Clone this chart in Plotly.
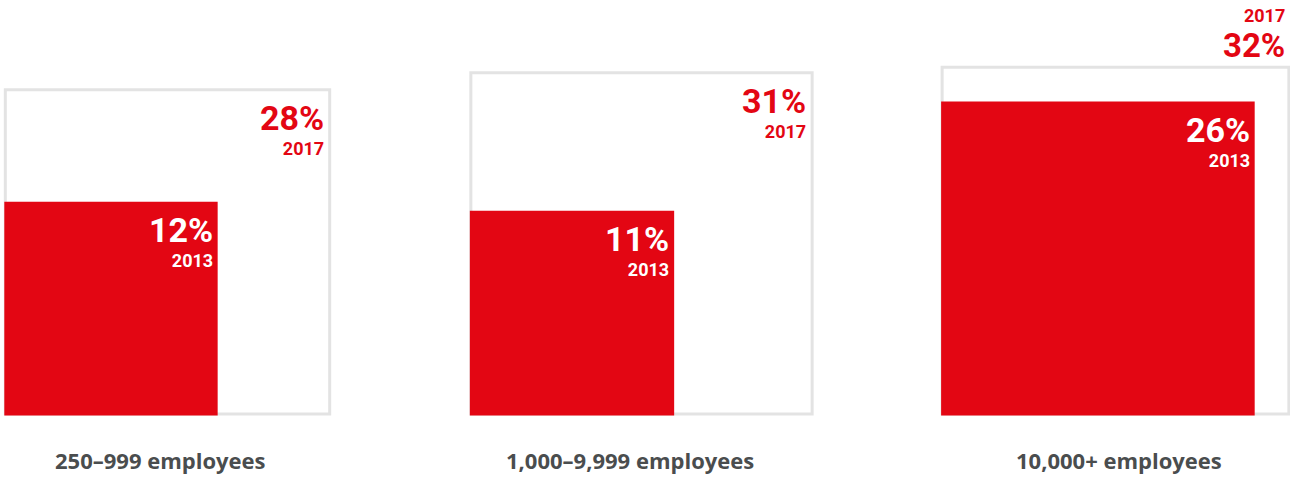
import math
import plotly.graph_objects as go

# Share of companies, by company size, in 2013 and 2017 (percent)
categories = ["250–999 employees", "1,000–9,999 employees", "10,000+ employees"]
share_2013 = [12, 11, 26]
share_2017 = [28, 31, 32]
year_labels = ["2013", "2017"]

W, H = 1290, 482
RED = "#e30613"
OUTLINE = "#e3e3e3"
TEXT = "#4a4d4e"
VALUE_FONT = "Roboto, sans-serif"
LABEL_FONT = "Open Sans, sans-serif"

# square area is proportional to the value: side = scale * sqrt(value)
scale = 61.3          # pixels of side per sqrt(percentage point)
first_center = 167.5  # x centre of the first group
spacing = 474         # distance between group centres
baseline = 68         # y of the common bottom edge (axis units = pixels)
label_nudge = [-7, -12, 3]  # horizontal nudge of each category label


def value_label(value, year, size_big=34, size_small=18, year_first=False):
    big = f"<span style='font-size:{size_big}px'><b>{value}%</b></span>"
    small = f"<span style='font-size:{size_small}px'><b>{year}</b></span>"
    return f"{small}<br>{big}" if year_first else f"{big}<br>{small}"


fig = go.Figure()
shapes, annotations = [], []

for i, (cat, v13, v17) in enumerate(zip(categories, share_2013, share_2017)):
    c = first_center + i * spacing
    big = scale * math.sqrt(v17)
    small = scale * math.sqrt(v13)
    left = c - big / 2

    # 2017: outlined square
    shapes.append(dict(type="rect", xref="x", yref="y",
                       x0=left, x1=left + big, y0=baseline, y1=baseline + big,
                       line=dict(color=OUTLINE, width=3), fillcolor="white", layer="below"))
    # 2013: filled square sharing the bottom-left corner
    shapes.append(dict(type="rect", xref="x", yref="y",
                       x0=left - 1, x1=left + small, y0=baseline - 1.5, y1=baseline + small,
                       line=dict(width=0), fillcolor=RED, layer="below"))

    # 2013 value, inside the red square
    annotations.append(dict(x=left + small, y=baseline + small, xref="x", yref="y",
                            text=value_label(v13, year_labels[0]), showarrow=False,
                            xanchor="right", yanchor="top", align="right",
                            xshift=-3, yshift=-6.5,
                            font=dict(family=VALUE_FONT, size=19.5, color="white")))

    # 2017 value: inside the outline if there is room above the red square, else above it
    if big - small > 70:
        annotations.append(dict(x=left + big, y=baseline + big, xref="x", yref="y",
                                text=value_label(v17, year_labels[1]), showarrow=False,
                                xanchor="right", yanchor="top", align="right",
                                xshift=-4, yshift=-6.5,
                                font=dict(family=VALUE_FONT, size=19.5, color=RED)))
    else:
        annotations.append(dict(x=left + big, y=baseline + big, xref="x", yref="y",
                                text=value_label(v17, year_labels[1], size_big=33,
                                                 year_first=True),
                                showarrow=False,
                                xanchor="right", yanchor="bottom", align="right",
                                xshift=-2, yshift=0,
                                font=dict(family=VALUE_FONT, size=27, color=RED)))

    # category label under the group
    annotations.append(dict(x=c, y=22, xref="x", yref="y", xshift=label_nudge[i],
                            text=f"<b>{cat}</b>", showarrow=False,
                            xanchor="center", yanchor="middle",
                            font=dict(family=LABEL_FONT, size=22, color=TEXT)))

fig.update_layout(
    width=W, height=H,
    margin=dict(l=0, r=0, t=0, b=0),
    paper_bgcolor="white", plot_bgcolor="white",
    xaxis=dict(range=[0, W], visible=False, fixedrange=True),
    yaxis=dict(range=[0, H], visible=False, fixedrange=True),
    shapes=shapes, annotations=annotations,
    showlegend=False,
)

fig.write_html("out.html")
